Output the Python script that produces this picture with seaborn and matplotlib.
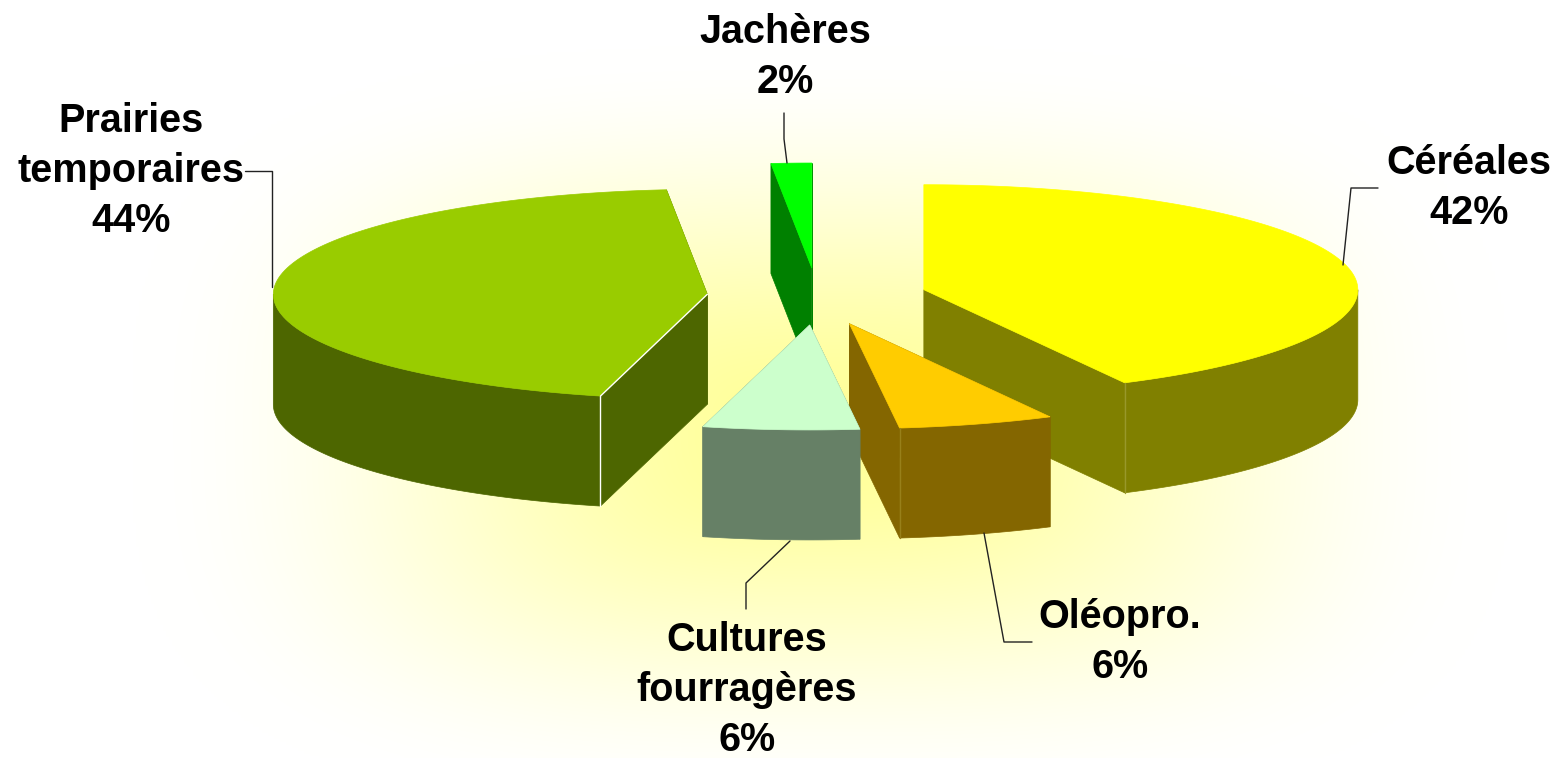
import matplotlib
matplotlib.use("Agg")
import matplotlib.pyplot as plt
import seaborn as sns
import numpy as np

# donnees
categories = ['Céréales', 'Oléopro.', 'Cultures\nfourragères', 'Prairies\ntemporaires', 'Jachères']
values = [42.3, 5.8, 5.8, 44.49, 1.5]
top_colors = ['#FFFF00', '#FFCC00', '#CCFFCC', '#99CC00', '#00FF00']
side_colors = ['#808000', '#846600', '#668066', '#4D6600', '#008000']
edge_colors = ['#98982A', '#98801A', None, '#FFFFFF', None]

# mise en page (pixels de l'image)
CX, CY = 817, 296.5
RX, RY = 434, 105
DEPTH = 110
EXPLODE_X, EXPLODE_Y = 110, 28.5
draw_order = [4, 3, 0, 1, 2]
label_pos = [(1469, 188), (1120, 642), (747, 690), (131, 171), (785, 57)]
leaders = [
    ([1378, 1351, 1343], [188, 188, 265]),
    ([1032, 1004, 984], [642, 642, 533]),
    ([746, 746, 790], [609, 583, 541]),
    ([245, 272, 272], [171, 171, 287]),
    ([784, 784, 787], [113, 139, 163]),
]

sns.set_theme(style="white")
plt.rcParams['font.family'] = ['Liberation Sans', 'DejaVu Sans']

fig = plt.figure(figsize=(15.59, 7.58), dpi=100)
ax = fig.add_axes([0, 0, 1, 1])
ax.set_xlim(0, 1559)
ax.set_ylim(758, 0)
ax.axis('off')

# fond degrade blanc -> jaune pale
xx, yy = np.meshgrid(np.arange(0, 1559, 3), np.arange(0, 758, 3))
dist = (np.abs((xx - 820) / 860) ** 3 + np.abs((yy - 430) / 480) ** 3) ** (1 / 3)
t = np.clip(dist / 0.8, 0, 1)
bg = np.ones(xx.shape + (3,))
bg[..., 2] = 0.60 + 0.40 * t * t * (3 - 2 * t)
ax.imshow(bg, extent=(0, 1559, 758, 0), aspect='auto', zorder=0, interpolation='bilinear')


def arc(cx, cy, a0, a1):
    t = np.radians(np.linspace(a0, a1, 120))
    return cx + RX * np.sin(t), cy - RY * np.cos(t)


def draw_slice(i, a0, a1):
    mid = np.radians((a0 + a1) / 2)
    cx = CX + EXPLODE_X * np.sin(mid)
    cy = CY - EXPLODE_Y * np.cos(mid)
    side = side_colors[i]

    # faces radiales
    for a in (a0, a1):
        x, y = arc(cx, cy, a, a)
        px = [cx, x[0], x[0], cx]
        py = [cy, y[0], y[0] + DEPTH, cy + DEPTH]
        ax.fill(px, py, color=side, lw=0.5, zorder=2)

    # bord exterieur (seulement la partie avant)
    lo, hi = max(a0, 90), min(a1, 270)
    if lo < hi:
        x, y = arc(cx, cy, lo, hi)
        ax.fill(np.r_[x, x[::-1]], np.r_[y, y[::-1] + DEPTH], color=side, lw=0.5, zorder=2)

    # dessus
    x, y = arc(cx, cy, a0, a1)
    ax.fill(np.r_[cx, x], np.r_[cy, y], color=top_colors[i], lw=0.5, zorder=2)

    # arete avant
    if edge_colors[i]:
        a = a0 if i == 3 else a1
        xe, ye = arc(cx, cy, a, a)
        ax.plot([xe[0], xe[0]], [ye[0], ye[0] + DEPTH], color=edge_colors[i], lw=1, zorder=2)
        if i == 3:
            ax.plot([cx, xe[0]], [cy, ye[0]], color=edge_colors[i], lw=1, zorder=2)


edges = np.r_[0, np.cumsum(values)] / sum(values) * 360
for i in draw_order:
    draw_slice(i, edges[i], edges[i + 1])

# etiquettes
for name, val, pos, (lx, ly) in zip(categories, values, label_pos, leaders):
    ax.plot(lx, ly, color='#222222', lw=1, zorder=3)
    ax.text(pos[0], pos[1], f"{name}\n{val:.0f}%", ha='center', va='center', ma='center',
            fontsize=28.5, fontweight='bold', color='black', linespacing=1.39, zorder=4)

fig.savefig('out.png', dpi=100)
